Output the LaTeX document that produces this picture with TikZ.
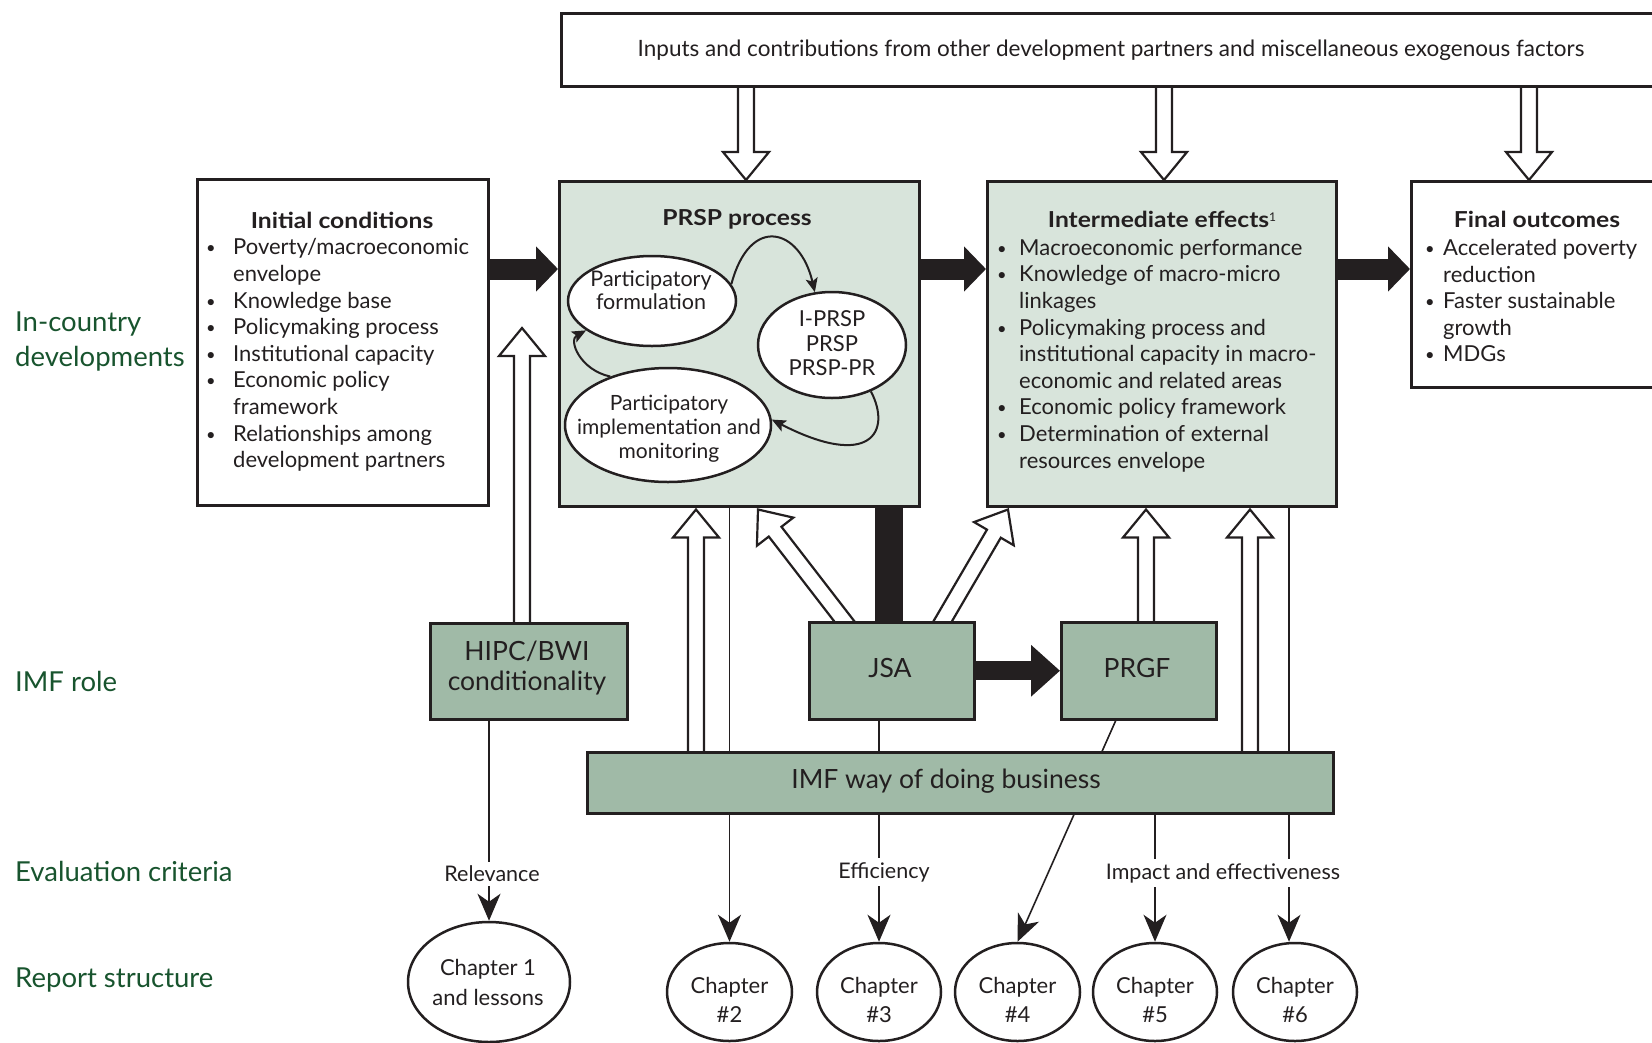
\documentclass[tikz,border=0pt]{standalone}
\usepackage{fontspec}
\setmainfont{Lato}
\newfontfamily\widebold[FakeStretch=1.12]{Lato}
\usetikzlibrary{arrows.meta,shapes.geometric,calc}
\pgfdeclarelayer{bg}
\pgfsetlayers{bg,main}
\definecolor{ink}{RGB}{35,31,32}
\definecolor{paleg}{RGB}{216,228,219}
\definecolor{midg}{RGB}{160,186,167}
\definecolor{labg}{RGB}{24,84,46}
\newcommand{\fs}[2]{\fontsize{#1}{#2}\selectfont}
\newcommand{\bul}[1]{\makebox[#1][l]{\raisebox{1pt}{\scalebox{0.75}{\textbullet}}}}
\newcommand{\ind}[1]{\hspace*{#1}}
\newcommand{\hollow}[2]{%
  \coordinate (hh) at ($(#2)!28pt!(#1)$);
  \filldraw[hollowst] ($(#1)!8pt!90:(#2)$) -- ($(hh)!8pt!90:(#2)$) -- ($(hh)!23pt!90:(#2)$) -- (#2) -- ($(hh)!23pt!-90:(#2)$) -- ($(hh)!8pt!-90:(#2)$) -- ($(#1)!8pt!-90:(#2)$);
}
\begin{document}
\begin{tikzpicture}[x=1pt,y=-1pt,
  box/.style={draw=ink,line width=2.5pt,anchor=north west,inner sep=0pt},
  oval/.style={ellipse,draw=ink,fill=white,line width=2.5pt,inner sep=0pt},
  txt/.style={inner sep=0pt,text=ink,font=\fs{22}{26.6}},
  ttl/.style={inner sep=0pt,text=ink,font=\widebold\bfseries\fs{22}{27}},
  roletxt/.style={inner sep=0pt,text=ink,font=\fs{26.5}{30},align=center},
  rowlab/.style={inner sep=0pt,text=labg,font=\fs{27.5}{35},anchor=west,align=left},
  crit/.style={inner sep=4pt,fill=white,text=ink,font=\fs{21.5}{27}},
  thinln/.style={draw=ink,line width=1.6pt},
  chtip/.style={-{Stealth[length=27pt,width=23pt,inset=8pt]}},
  hollowst/.style={draw=ink,fill=white,line width=2.2pt,line join=miter},
  fatarrow/.style={draw=ink,line width=21pt,-{Triangle[length=22pt,width=44pt]}},
  curv/.style={draw=ink,line width=2pt,-{Stealth[length=14pt,width=12pt,inset=3pt]}},
]
\useasboundingbox (0,0) rectangle (1652,1042);

% ---------- top box ----------
\node[box,fill=white,minimum width=1110,minimum height=73] (top) at (560,12) {};
\node[txt,font=\fs{22.5}{27}] (toptxt) at (1111,50.5) {Inputs and contributions from other development partners and miscellaneous exogenous factors};

% ---------- row 1 boxes ----------
\node[box,fill=white,minimum width=291,minimum height=326] (init) at (196,178) {};
\node[ttl] (inittitle) at (342,220) {Initial conditions};
\node[txt,anchor=north west,align=left] (initlist) at (206,238.5) {%
\bul{27pt}Poverty/macroeconomic\\
\ind{27pt}envelope\\
\bul{27pt}Knowledge base\\
\bul{27pt}Policymaking process\\
\bul{27pt}Institutional capacity\\
\bul{27pt}Economic policy\\
\ind{27pt}framework\\
\bul{27pt}Relationships among\\
\ind{27pt}development partners};

\node[box,fill=paleg,minimum width=360,minimum height=325] (prsp) at (558,180) {};
\node[ttl] (prsptitle) at (737,219) {PRSP process};

\node[box,fill=paleg,minimum width=349,minimum height=325] (inter) at (986,180) {};
\node[ttl] (intertitle) at (1162,219) {Intermediate effects\raisebox{6pt}{\normalfont\fs{12}{12}1}};
\node[txt,anchor=north west,align=left] (interlist) at (997,239) {%
\bul{22pt}Macroeconomic performance\\
\bul{22pt}Knowledge of macro-micro\\
\ind{22pt}linkages\\
\bul{22pt}Policymaking process and\\
\ind{22pt}institutional capacity in macro-\\
\ind{22pt}economic and related areas\\
\bul{22pt}Economic policy framework\\
\bul{22pt}Determination of external\\
\ind{22pt}resources envelope};

\node[box,fill=white,minimum width=262,minimum height=206] (final) at (1410,180) {};
\node[ttl] (finaltitle) at (1537,219) {Final outcomes};
\node[txt,anchor=north west,align=left] (finallist) at (1425,239) {%
\bul{18pt}Accelerated poverty\\
\ind{18pt}reduction\\
\bul{18pt}Faster sustainable\\
\ind{18pt}growth\\
\bul{18pt}MDGs};

% ---------- PRSP ellipses ----------
\node[oval,minimum width=168,minimum height=90] (form) at (652,301) {};
\node[txt,align=center,font=\fs{21.5}{23.5}] (formtxt) at (651,290) {Participatory\\formulation};
\node[oval,minimum width=148,minimum height=106] (iprsp) at (832,345) {};
\node[txt,align=center,font=\fs{22}{24.5}] (iprsptxt) at (832,343.5) {I-PRSP\\PRSP\\PRSP-PR};
\node[oval,minimum width=206,minimum height=114] (impl) at (668,425) {};
\node[txt,align=center,font=\fs{21}{24.2}] (impltxt) at (669,429) {Participatory\\implementation and\\monitoring};

\draw[curv] (form.12) .. controls (750,214) and (800,228) .. (iprsp.108);
\draw[curv] (iprsp.-50) .. controls (892,432) and (870,470) .. (impl.3);
\draw[curv] (impl.140) .. controls (580,370) and (568,340) .. (form.-156);

% ---------- IMF role boxes ----------
\node[box,fill=midg,minimum width=197,minimum height=96] (hipc) at (429,622) {};
\node[roletxt] (hipctxt) at (527,668) {HIPC/BWI\\conditionality};
\node[box,fill=midg,minimum width=165,minimum height=97] (jsa) at (808,621) {};
\node[roletxt] (jsatxt) at (890,668) {JSA};
\node[box,fill=midg,minimum width=155,minimum height=97] (prgf) at (1060,621) {};
\node[roletxt] (prgftxt) at (1137,668) {PRGF};
\node[box,fill=midg,minimum width=746,minimum height=61] (imf) at (586,751) {};
\node[roletxt] (imftxt) at (946,781) {IMF way of doing business};

% ---------- row labels ----------
\node[rowlab] (lab1) at (15,341.5) {In-country\\developments};
\node[rowlab] (lab2) at (15,681) {IMF role};
\node[rowlab] (lab3) at (15,871.5) {Evaluation criteria};
\node[rowlab] (lab4) at (15,980) {Report structure};

% ---------- chapters ----------
\node[oval,minimum width=162,minimum height=120] (ch1) at (489,982) {};
\node[txt,align=center,font=\fs{22}{30}] (ch1txt) at (488,982) {Chapter 1\\and lessons};
\node[oval,minimum width=125,minimum height=98] (ch2) at (729.5,992) {};
\node[txt,align=center,font=\fs{22}{29}] (ch2txt) at (729.5,1000) {Chapter\\\#2};
\node[oval,minimum width=124,minimum height=98] (ch3) at (879,992) {};
\node[txt,align=center,font=\fs{22}{29}] (ch3txt) at (879,1000) {Chapter\\\#3};
\node[oval,minimum width=125,minimum height=98] (ch4) at (1017.5,992) {};
\node[txt,align=center,font=\fs{22}{29}] (ch4txt) at (1017.5,1000) {Chapter\\\#4};
\node[oval,minimum width=124,minimum height=98] (ch5) at (1155,992) {};
\node[txt,align=center,font=\fs{22}{29}] (ch5txt) at (1155,1000) {Chapter\\\#5};
\node[oval,minimum width=124,minimum height=98] (ch6) at (1295,992) {};
\node[txt,align=center,font=\fs{22}{29}] (ch6txt) at (1295,1000) {Chapter\\\#6};

% ---------- criteria labels ----------
\node[crit] (relev) at (492,874) {Relevance};
\node[crit] (effic) at (884,872) {Efficiency};
\node[crit] (impact) at (1223,873) {Impact and effectiveness};

% ---------- coordinates ----------
\coordinate (arow) at (0,269);
\coordinate (tA) at ([xshift=188pt]prsp.north west);
\coordinate (tB) at ([xshift=178pt]inter.north west);
\coordinate (tC) at ([xshift=119pt]final.north west);
\coordinate (hipctip) at (522,328);
\coordinate (tD) at ([xshift=138pt,yshift=-2pt]prsp.south west);
\coordinate (tE) at ([xshift=200pt,yshift=-2pt]prsp.south west);
\coordinate (tF) at ([xshift=22pt,yshift=-2pt]inter.south west);
\coordinate (tG) at ([xshift=160pt,yshift=-2pt]inter.south west);
\coordinate (tH) at ([xshift=264pt,yshift=-2pt]inter.south west);
\coordinate (c6top) at ([xshift=-6pt]ch6.north);
\coordinate (prgfout) at ([xshift=-23pt]prgf.south);

\begin{pgfonlayer}{bg}
  % hollow arrows
  \coordinate (sA) at (tA |- top.center); \hollow{sA}{tA}
  \coordinate (sB) at (tB |- top.center); \hollow{sB}{tB}
  \coordinate (sC) at (tC |- top.center); \hollow{sC}{tC}
  \coordinate (sH1) at (hipctip |- hipc.center); \hollow{sH1}{hipctip}
  \coordinate (sD) at (tD |- imf.center); \hollow{sD}{tD}
  \coordinate (sE) at ([xshift=-33pt,yshift=-19pt]jsa.north); \hollow{sE}{tE}
  \coordinate (sF) at ([xshift=40pt,yshift=-19pt]jsa.north); \hollow{sF}{tF}
  \coordinate (sG) at (tG |- prgf.center); \hollow{sG}{tG}
  \coordinate (sH) at (tH |- imf.center); \hollow{sH}{tH}
  % black arrows
  \draw[fatarrow] (init.east |- arow) -- (prsp.west |- arow);
  \draw[fatarrow] (prsp.east |- arow) -- (inter.west |- arow);
  \draw[fatarrow] (inter.east |- arow) -- (final.west |- arow);
  \draw[draw=ink,line width=19pt,-{Triangle[length=29pt,width=50pt]}] (jsa.east) -- (prgf.west);
  \draw[draw=ink,line width=28pt] ([xshift=-3pt]jsa.north) -- ([xshift=-3pt]jsa.north |- prsp.south);
  % thin lines to chapters
  \draw[thinln,chtip] (hipc.south -| ch1.north) -- (ch1.north);
  \draw[thinln,chtip] (prsp.south -| ch2.north) -- (ch2.north);
  \draw[thinln,chtip] (jsa.south -| ch3.north) -- (ch3.north);
  \draw[thinln,chtip] (prgfout) -- (ch4.north);
  \draw[thinln,chtip] (imf.south -| ch5.north) -- (ch5.north);
  \draw[thinln,chtip] (inter.south -| c6top) -- (c6top);
\end{pgfonlayer}
\end{tikzpicture}
\end{document}
